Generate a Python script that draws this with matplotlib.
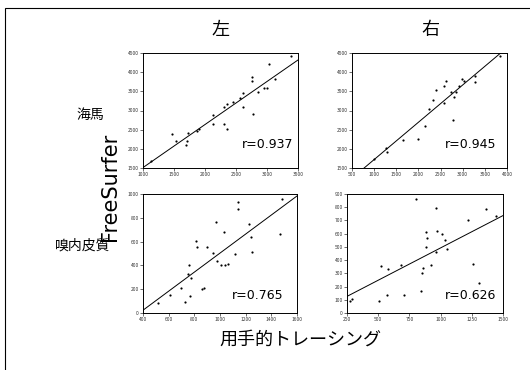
import numpy as np
import matplotlib
matplotlib.use("Agg")
import matplotlib.pyplot as plt
from matplotlib.patches import Rectangle

plt.rcParams['font.family'] = ['Noto Sans CJK JP', 'DejaVu Sans']

# 左 海馬
hl_x = [1135, 1475, 1529, 1691, 1702, 1729, 1864, 1907, 2123, 2134, 2307, 2350, 2312, 2350,
        2458, 2566, 2620, 2620, 2755, 2755, 2771, 2852, 2944, 2998, 3025, 3122, 3392]
hl_y = [1691, 2387, 2213, 2109, 2196, 2413, 2474, 2517, 2657, 2891, 2648, 2526, 3100, 3170,
        3222, 3326, 3448, 3100, 3865, 3778, 2909, 3483, 3587, 3587, 4213, 3822, 4430]
# 右 海馬
hr_x = [989, 1268, 1290, 1659, 1998, 2156, 2232, 2322, 2397, 2570, 2570, 2623, 2736, 2774,
        2812, 2849, 2924, 2985, 3022, 3285, 3285, 3850]
hr_y = [1735, 2022, 1917, 2239, 2256, 2587, 3039, 3283, 3543, 3196, 3630, 3778, 3474, 2761,
        3343, 3474, 3630, 3822, 3778, 3891, 3735, 4430]
# 左 嗅内皮質
el_x = [517, 607, 693, 724, 768, 750, 776, 758, 815, 819, 861, 872, 898, 944, 970, 975,
        1009, 1030, 1040, 1066, 1118, 1144, 1144, 1229, 1242, 1250, 1468, 1481]
el_y = [85, 155, 209, 96, 147, 330, 294, 401, 605, 556, 203, 209, 554, 508, 768, 435,
        401, 678, 401, 415, 500, 932, 876, 746, 636, 514, 661, 955]
# 右 嗅内皮質
er_x = [276, 294, 505, 523, 570, 581, 680, 706, 805, 844, 854, 857, 880, 888, 883, 927,
        966, 961, 971, 1010, 1036, 1052, 1219, 1260, 1310, 1362, 1443]
er_y = [94, 104, 92, 353, 137, 331, 365, 137, 865, 169, 303, 343, 614, 564, 497, 360,
        460, 796, 622, 597, 552, 485, 704, 373, 224, 788, 733]

r_vals = ['r=0.937', 'r=0.945', 'r=0.765', 'r=0.626']

W, H = 530, 370
fig = plt.figure(figsize=(5.3, 3.7), dpi=100)
fig.patch.set_facecolor('white')

def box(x0, y0, x1, y1):
    return [x0 / W, 1 - y1 / H, (x1 - x0) / W, (y1 - y0) / H]

panels = [
    (box(143, 53, 298, 168), hl_x, hl_y, (1000, 3500), np.arange(1000, 3501, 500),
     (1500, 4500), np.arange(1500, 4501, 500), r_vals[0], (0.64, 0.17)),
    (box(352, 53, 507, 168), hr_x, hr_y, (500, 4000), np.arange(500, 4001, 500),
     (1500, 4500), np.arange(1500, 4501, 500), r_vals[1], (0.6, 0.17)),
    (box(143, 194, 297, 313), el_x, el_y, (400, 1600), np.arange(400, 1601, 200),
     (0, 1000), np.arange(0, 1001, 200), r_vals[2], (0.58, 0.12)),
    (box(347, 194, 503, 313), er_x, er_y, (250, 1500), np.arange(250, 1501, 250),
     (0, 900), np.arange(0, 901, 100), r_vals[3], (0.63, 0.12)),
]

for rect, xs, ys, xl, xt, yl, yt, rtxt, rpos in panels:
    ax = fig.add_axes(rect)
    ax.scatter(xs, ys, s=2.5, color='black', linewidths=0)
    k, b = np.polyfit(xs, ys, 1)
    lx = np.array(xl)
    ax.plot(lx, k * lx + b, color='black', lw=0.7)
    ax.set_xlim(xl)
    ax.set_ylim(yl)
    ax.set_xticks(xt)
    ax.set_yticks(yt)
    ax.tick_params(labelsize=3.5, length=2, width=0.5, pad=1, colors='#333333')
    for s in ax.spines.values():
        s.set_linewidth(0.7)
    ax.text(rpos[0], rpos[1], rtxt, transform=ax.transAxes, fontsize=9,
            family=['DejaVu Sans'])

fig.text(220 / W, 1 - 30 / H, '左', fontsize=13, ha='center', va='center')
fig.text(430 / W, 1 - 30 / H, '右', fontsize=13, ha='center', va='center')
fig.text(90 / W, 1 - 115 / H, '海馬', fontsize=10, ha='center', va='center')
fig.text(83 / W, 1 - 246 / H, '嗅内皮質', fontsize=10, ha='center', va='center')
fig.text(110 / W, 1 - 187 / H, 'FreeSurfer', fontsize=15, rotation=90,
         ha='center', va='center', family=['DejaVu Sans'])
fig.text(300 / W, 1 - 340 / H, '用手的トレーシング', fontsize=13, ha='center', va='center')

fig.patches.append(Rectangle((5 / W, -0.1), 1.2, 1 - 8 / H + 0.1,
                             transform=fig.transFigure, fill=False,
                             edgecolor='black', lw=0.8))

fig.savefig('out.png', dpi=100)
